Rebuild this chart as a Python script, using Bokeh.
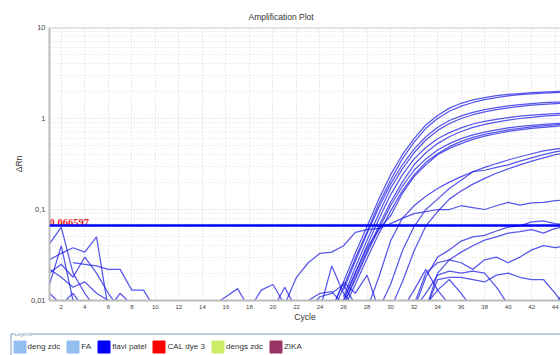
from bokeh.plotting import figure
from bokeh.models import FixedTicker, Span, Legend, LegendItem, Range1d, Label
from bokeh.embed import file_html
from bokeh.resources import INLINE
from bokeh.core.properties import value

# ---------------- data ----------------
cycle_start, cycle_end = 1, 44.45
threshold = 0.066597
x_ticks = list(range(2, 45, 2))
y_ticks = [0.01, 0.1, 1, 10]
y_tick_labels = {0.01: "0,01", 0.1: "0,1", 1: "1", 10: "10"}

# each curve: first cycle, then delta Rn per cycle
A1_start = 25
A1 = [0.008, 0.016, 0.033, 0.065, 0.13, 0.24, 0.4, 0.6, 0.85, 1.08, 1.3, 1.47, 1.6, 1.7, 1.78, 1.84, 1.88, 1.92, 1.95, 1.98, 2.0]
A2_start = 25
A2 = [0.007, 0.014, 0.029, 0.057, 0.115, 0.21, 0.36, 0.55, 0.78, 1.0, 1.2, 1.37, 1.5, 1.61, 1.7, 1.77, 1.83, 1.87, 1.9, 1.93, 1.95]
B1_start = 26
B1 = [0.013, 0.027, 0.054, 0.105, 0.19, 0.31, 0.46, 0.63, 0.8, 0.95, 1.07, 1.17, 1.25, 1.32, 1.38, 1.42, 1.46, 1.49, 1.51, 1.53]
B2_start = 26
B2 = [0.011, 0.023, 0.046, 0.09, 0.17, 0.28, 0.42, 0.58, 0.74, 0.88, 1.0, 1.1, 1.18, 1.25, 1.31, 1.36, 1.4, 1.43, 1.46, 1.48]
C1_start = 26
C1 = [0.01, 0.02, 0.04, 0.078, 0.145, 0.24, 0.36, 0.48, 0.6, 0.7, 0.79, 0.87, 0.93, 0.98, 1.02, 1.06, 1.09, 1.11, 1.13, 1.15]
C2_start = 26
C2 = [0.009, 0.018, 0.035, 0.066, 0.12, 0.2, 0.31, 0.42, 0.53, 0.63, 0.72, 0.8, 0.86, 0.91, 0.96, 1.0, 1.03, 1.06, 1.08, 1.1]
D1_start = 26
D1 = [0.009, 0.017, 0.033, 0.061, 0.11, 0.18, 0.27, 0.36, 0.45, 0.53, 0.6, 0.66, 0.71, 0.75, 0.79, 0.82, 0.84, 0.86, 0.88, 0.89]
D2_start = 26
D2 = [0.008, 0.015, 0.029, 0.054, 0.096, 0.16, 0.24, 0.33, 0.41, 0.49, 0.56, 0.62, 0.67, 0.71, 0.75, 0.78, 0.81, 0.83, 0.85, 0.86]
D3_start = 26
D3 = [0.01, 0.02, 0.038, 0.06, 0.085, 0.15, 0.23, 0.31, 0.4, 0.47, 0.53, 0.59, 0.64, 0.68, 0.72, 0.75, 0.78, 0.8, 0.82, 0.84]
L1_start = 28
L1 = [0.008, 0.018, 0.045, 0.08, 0.11, 0.14, 0.17, 0.2, 0.23, 0.26, 0.29, 0.32, 0.35, 0.38, 0.41, 0.44, 0.46, 0.48]
L2_start = 29
L2 = [0.008, 0.015, 0.035, 0.065, 0.1, 0.13, 0.17, 0.21, 0.26, 0.27, 0.29, 0.31, 0.34, 0.37, 0.4, 0.43, 0.45]
L3_start = 30
L3 = [0.008, 0.016, 0.035, 0.066, 0.095, 0.13, 0.16, 0.19, 0.22, 0.25, 0.28, 0.31, 0.34, 0.37, 0.4, 0.42]
E1_start = 21
E1 = [0.009, 0.018, 0.026, 0.033, 0.034, 0.04, 0.056, 0.06, 0.062, 0.07, 0.08, 0.09, 0.095, 0.1, 0.1, 0.11, 0.105, 0.1, 0.11, 0.12, 0.112, 0.118, 0.12, 0.125, 0.128]
F1_start = 32
F1 = [0.008, 0.018, 0.03, 0.036, 0.045, 0.05, 0.052, 0.058, 0.064, 0.066, 0.073, 0.075, 0.07, 0.068]
F2_start = 33
F2 = [0.008, 0.02, 0.028, 0.034, 0.04, 0.046, 0.05, 0.055, 0.057, 0.06, 0.055, 0.062, 0.065]
F3_start = 32
F3 = [0.009, 0.02, 0.026, 0.028, 0.026, 0.022, 0.028, 0.03, 0.026, 0.03, 0.036, 0.04, 0.038, 0.04]
G1_start = 33
G1 = [0.008, 0.017, 0.018, 0.018, 0.017, 0.016, 0.019, 0.02, 0.018, 0.017, 0.017, 0.012, 0.008]
G2_start = 32
G2 = [0.008, 0.012, 0.019, 0.021, 0.02, 0.021, 0.02, 0.014, 0.009]
G3_start = 31
G3 = [0.008, 0.013, 0.022, 0.013, 0.009]
G4_start = 33
G4 = [0.009, 0.013, 0.017, 0.012, 0.008]
G5_start = 43
G5 = [0.008, 0.009, 0.014]
S1_start = 24
S1 = [0.008, 0.024, 0.012, 0.008]
S2_start = 25
S2 = [0.008, 0.016, 0.012, 0.019, 0.008]
S3_start = 23
S3 = [0.008, 0.011, 0.012, 0.015, 0.009]
M1_start = 15
M1 = [0.009, 0.011, 0.0135, 0.008]
M2_start = 18
M2 = [0.008, 0.013, 0.015, 0.009]
M3_start = 20
M3 = [0.008, 0.014, 0.008]
M4_start = 22
M4 = [0.008, 0.01, 0.012, 0.0125, 0.009]
N1_start = 1
N1 = [0.042, 0.064, 0.02, 0.012, 0.008]
N2_start = 1
N2 = [0.028, 0.033, 0.038, 0.034, 0.05, 0.008]
N3_start = 1
N3 = [0.015, 0.04, 0.01, 0.008]
N4_start = 1
N4 = [0.022, 0.018, 0.014, 0.016, 0.012, 0.01, 0.008]
N5_start = 3
N5 = [0.026, 0.025, 0.024, 0.022, 0.022, 0.013, 0.013, 0.008]
N6_start = 1
N6 = [0.012, 0.009, 0.012, 0.008]
N7_start = 1
N7 = [0.02, 0.025, 0.018, 0.03, 0.02, 0.012, 0.008]
N8_start = 6
N8 = [0.008, 0.012, 0.009]

curves = [
    (A1_start, A1), (A2_start, A2), (B1_start, B1), (B2_start, B2),
    (C1_start, C1), (C2_start, C2), (D1_start, D1), (D2_start, D2), (D3_start, D3),
    (L1_start, L1), (L2_start, L2), (L3_start, L3), (E1_start, E1),
    (F1_start, F1), (F2_start, F2), (F3_start, F3),
    (G1_start, G1), (G2_start, G2), (G3_start, G3), (G4_start, G4), (G5_start, G5),
    (S1_start, S1), (S2_start, S2), (S3_start, S3),
    (M1_start, M1), (M2_start, M2), (M3_start, M3), (M4_start, M4),
    (N1_start, N1), (N2_start, N2), (N3_start, N3), (N4_start, N4),
    (N5_start, N5), (N6_start, N6), (N7_start, N7), (N8_start, N8),
]

legend_labels = ["deng zdc", "FA", "flavi patel", "CAL dye 3", "dengs zdc", "ZIKA"]
legend_colors = ["#92bef0", "#92bef0", "#0000ff", "#ff0000", "#ccee66", "#993366"]

FONT = "Liberation Sans"

# ---------------- main plot ----------------
p = figure(width=560, height=332, y_axis_type="log",
           x_range=Range1d(cycle_start, cycle_end), y_range=Range1d(y_ticks[0], y_ticks[-1]),
           output_backend="svg", toolbar_location=None,
           min_border_left=49, min_border_right=0, min_border_top=27, min_border_bottom=32,
           title="Amplification Plot", outline_line_color=None,
           background_fill_color="white", border_fill_color="white")

p.title.align = "left"
p.title.offset = 199
p.title.text_font = FONT
p.title.text_font_size = "8.5px"
p.title.text_font_style = "normal"
p.title.text_color = "#333333"
p.title.standoff = 11

xs = [[s + i for i in range(len(v))] for s, v in curves]
ys = [list(v) for s, v in curves]
p.multi_line(xs, ys, line_color="#1f1fe6", line_alpha=0.75, line_width=1.25)

p.add_layout(Span(location=threshold, dimension="width", line_color="#0000ff", line_width=2.5))
p.add_layout(Span(location=y_ticks[-1], dimension="width", line_color="#c8c8c8", line_width=2))
p.text(x=[cycle_start], y=[threshold], text=[f"{threshold:.6f}"], text_color="#ee1c25",
       text_font=value("Liberation Serif"), text_font_style="bold", text_font_size="10.5px",
       text_baseline="bottom", text_align="left")

# axes
p.xaxis.ticker = FixedTicker(ticks=x_ticks)
minor = [m * 10 ** e for e in range(-2, 1) for m in range(2, 10)]
p.yaxis.ticker = FixedTicker(ticks=y_ticks, minor_ticks=minor)
p.yaxis.major_label_overrides = y_tick_labels
for ax in (p.xaxis[0], p.yaxis[0]):
    ax.axis_line_color = "#bbbbbb"
    ax.axis_line_width = 2
    ax.major_tick_line_color = None
    ax.minor_tick_line_color = None
    ax.major_tick_out = 0
    ax.major_tick_in = 0
    ax.minor_tick_out = 0
    ax.minor_tick_in = 0
    ax.major_label_text_font = FONT
    ax.major_label_text_color = "#444444"
    ax.axis_label_text_font = FONT
    ax.axis_label_text_font_style = "normal"
    ax.axis_label_text_color = "#333333"
p.xaxis.major_label_text_font_size = "6px"
p.yaxis.major_label_text_font_size = "7.5px"
p.xaxis.major_label_standoff = 4
p.yaxis.major_label_standoff = 4
p.xaxis.axis_label = "Cycle"
p.yaxis.axis_label = "ΔRn"
p.xaxis.axis_label_text_font_size = "8.5px"
p.yaxis.axis_label_text_font_size = "8.5px"
p.xaxis.axis_label_standoff = 0
p.yaxis.axis_label_standoff = 4

p.xgrid.ticker = FixedTicker(ticks=x_ticks)
p.xgrid.grid_line_color = "#d4d4d4"
p.xgrid.grid_line_dash = "1 2"
p.ygrid.grid_line_color = "#d0d0d0"
p.ygrid.grid_line_dash = "1 2"
p.ygrid.minor_grid_line_color = "#e0e0e0"
p.ygrid.minor_grid_line_dash = "1 2"

# ---------------- legend strip (separate root, so its frame starts at x=0) ----------------
lg = figure(width=560, height=23, x_range=Range1d(0, 560), y_range=Range1d(0, 23),
            output_backend="svg", toolbar_location=None, min_border=0,
            min_border_left=0, min_border_right=0, min_border_top=0, min_border_bottom=0,
            outline_line_color=None, x_axis_location=None, y_axis_location=None)
lg.grid.visible = False
lg.line(x=[10.5, 10.5, 560], y=[0, 21.5, 21.5], line_color="#7f9db9", line_width=1)
lg.add_layout(Label(x=14, y=21.5, text="Legend", text_font=FONT, text_font_size="5px",
                    text_color="#7f9db9", text_baseline="middle",
                    background_fill_color="white"))
items = []
for name, col in zip(legend_labels, legend_colors):
    # one off-canvas box per entry; only its legend swatch is visible
    r = lg.quad(left=[-20], right=[-10], top=[-10], bottom=[-20], fill_color=col, line_color=col)
    items.append(LegendItem(label=name, renderers=[r]))
leg = Legend(items=items, orientation="horizontal", location=(11.5, 1),
             glyph_width=15, glyph_height=15, label_standoff=1, spacing=5,
             padding=0, margin=0, label_height=15, label_width=8,
             label_text_font=FONT, label_text_font_size="8.1px", label_text_color="#333333",
             border_line_color=None, background_fill_alpha=0)
lg.add_layout(leg)

open("out.html", "w").write(file_html([p, lg], INLINE))
